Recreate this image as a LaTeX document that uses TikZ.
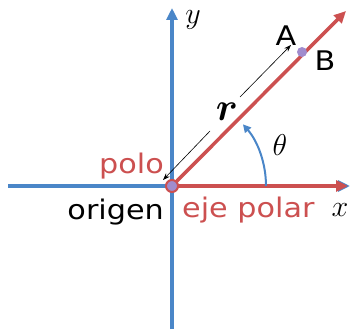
\documentclass[tikz,border=0pt]{standalone}
\usepackage{fontspec}
\setmainfont{DejaVu Sans}[FakeStretch=1.12]
\usetikzlibrary{arrows.meta}
\definecolor{axblue}{RGB}{74,134,200}
\definecolor{axred}{RGB}{204,80,80}
\definecolor{dotpurple}{RGB}{160,140,205}
\tikzset{
  axis/.style={draw=axblue, line width=3.5pt, -{Triangle[length=12pt,width=11pt]}},
  raxis/.style={draw=axred, line width=3.5pt, -{Triangle[length=12pt,width=11pt]}},
  lbl/.style={font=\fontsize{27}{29}\selectfont, inner sep=0pt},
  mathlbl/.style={font=\huge, scale=1.45, inner sep=0pt}
}
\begin{document}
\begin{tikzpicture}[x=1pt,y=-1pt]
\useasboundingbox (0,0) rectangle (350,329);
\coordinate (O) at (172,186);
\coordinate (xl) at (8,186);
\coordinate (xr) at (350,186);
\coordinate (yb) at (172,329);
\coordinate (yt) at (172,8);
\coordinate (pend) at (348,186);
\coordinate (rend) at (346,11);
% blue axes
\draw[draw=axblue, line width=3.5pt] (xl) -- (O);
\draw[axis] (O) -- (xr);
\draw[axis] (yb) -- (yt);
% red polar axis and ray
\draw[raxis] (O) -- (pend);
\draw[raxis] (O) -- (rend);
% angle arc
\draw[draw=axblue, line width=2pt, -{Triangle[length=8pt,width=8pt]}] (266,186) arc[start angle=0, end angle=-41, radius=94];
% r double arrow
\coordinate (r1) at (163,180);
\coordinate (r2) at (291,45);
\node[font=\huge\boldmath, scale=1.9, inner sep=0pt] (r) at (227,112) {$r$};
\draw[black, line width=0.6pt, -{Stealth[length=7pt,width=5pt]}] (210,131) -- (r1);
\draw[black, line width=0.6pt, -{Stealth[length=7pt,width=5pt]}] (240,97) -- (r2);
% origin dot
\node[circle, fill=dotpurple, draw=axred, line width=2pt, minimum size=12pt, inner sep=0pt] (o) at (O) {};
% point B
\node[circle, fill=dotpurple, minimum size=10pt, inner sep=0pt] (bdot) at (302,52) {};
% labels
\node[lbl] (A) at (286,36) {A};
\node[lbl] (B) at (325,61) {B};
\node[mathlbl] (th) at (280,145) {$\theta$};
\node[mathlbl] (xlab) at (340,210) {$x$};
\node[mathlbl] (ylab) at (193,20) {$y$};
\node[lbl, text=axred, anchor=east] (polo) at (164,166) {polo};
\node[lbl, anchor=east] (origen) at (164,212) {origen};
\node[lbl, text=axred, anchor=west] (eje) at (182,210) {eje polar};
\end{tikzpicture}
\end{document}
